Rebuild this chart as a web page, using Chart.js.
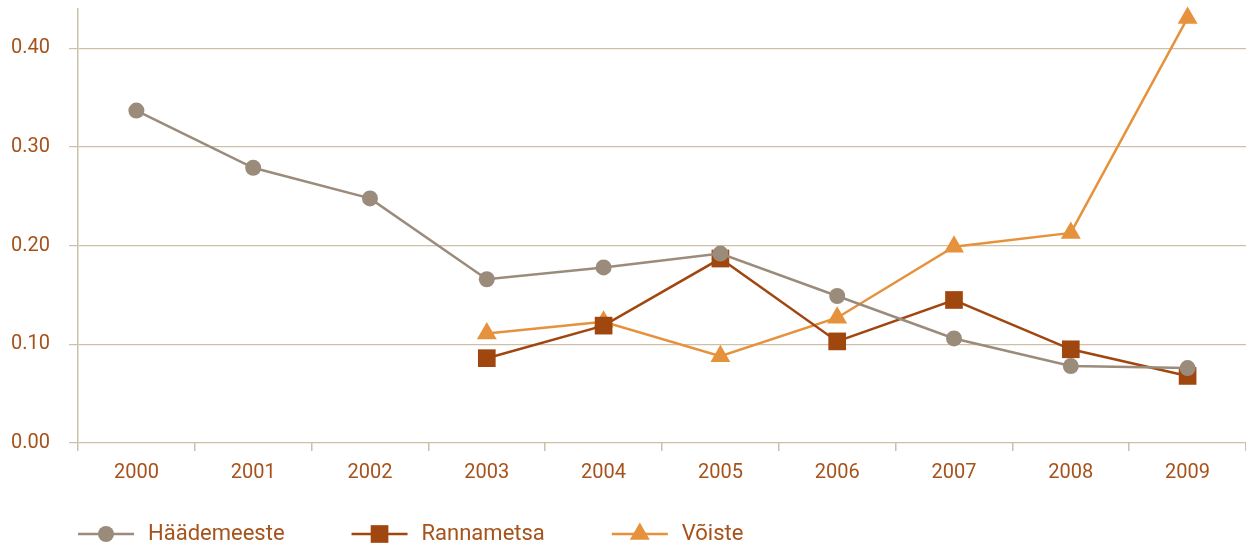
<!DOCTYPE html>
<html>
<head>
<meta charset="utf-8">
<script src="https://cdn.jsdelivr.net/npm/chart.js@4"></script>
<style>
    html, body { margin: 0; padding: 0; background: #ffffff; }
    #wrap { width: 1246px; height: 545px; }
</style>
</head>
<body>
<div id="wrap"><canvas id="line-chart"></canvas></div>
<script>
const years = ["2000", "2001", "2002", "2003", "2004", "2005", "2006", "2007", "2008", "2009"];
const haademeeste = [0.337, 0.279, 0.248, 0.166, 0.178, 0.192, 0.149, 0.106, 0.078, 0.076];
const rannametsa = [null, null, null, 0.086, 0.119, 0.187, 0.103, 0.145, 0.095, 0.068];
const voiste = [null, null, null, 0.111, 0.123, 0.088, 0.127, 0.199, 0.213, 0.431];
const yTicks = [0, 0.1, 0.2, 0.3, 0.4];

const textColor = "#a6521b";
const gridColor = "#cdbfa8";
const font = { family: "Roboto", size: 20 };

/* legend: line with marker, drawn under the x axis */
const lineLegend = {
    id: "lineLegend",
    afterDraw(chart) {
        const ctx = chart.ctx;
        const y = 534;
        let x = chart.chartArea.left;
        ctx.save();
        ctx.font = "22px " + font.family;
        ctx.textBaseline = "middle";
        chart.data.datasets.forEach(function(ds) {
            ctx.strokeStyle = ds.borderColor;
            ctx.lineWidth = ds.borderWidth;
            ctx.beginPath();
            ctx.moveTo(x, y);
            ctx.lineTo(x + 56, y);
            ctx.stroke();
            ctx.fillStyle = ds.pointBackgroundColor;
            Chart.helpers.drawPoint(ctx, {
                pointStyle: ds.pointStyle,
                radius: ds.pointRadius,
                borderWidth: 0,
                rotation: 0
            }, x + 28, y);
            ctx.fillStyle = textColor;
            ctx.fillText(ds.label, x + 70, y);
            x += 70 + ctx.measureText(ds.label).width + 67;
        });
        ctx.restore();
    }
};

new Chart(document.querySelector("#line-chart"), {
    type: "line",
    data: {
        labels: years,
        datasets: [{
            label: "Häädemeeste",
            data: haademeeste,
            borderColor: "#9b8b7b",
            pointBackgroundColor: "#9b8b7b",
            pointBorderColor: "#9b8b7b",
            borderWidth: 2.5,
            pointStyle: "circle",
            pointRadius: 8,
            pointBorderWidth: 0,
        }, {
            label: "Rannametsa",
            data: rannametsa,
            borderColor: "#a0460f",
            pointBackgroundColor: "#a0460f",
            pointBorderColor: "#a0460f",
            borderWidth: 2.5,
            pointStyle: "rect",
            pointRadius: 12.5,
            pointBorderWidth: 0,
        }, {
            label: "Võiste",
            data: voiste,
            borderColor: "#e6913b",
            pointBackgroundColor: "#e6913b",
            pointBorderColor: "#e6913b",
            borderWidth: 2.5,
            pointStyle: "triangle",
            pointRadius: 11.5,
            pointBorderWidth: 0,
        }],
    },
    options: {
        responsive: true,
        maintainAspectRatio: false,
        animation: false,
        layout: { autoPadding: false, padding: { top: 9, right: 0, bottom: 0, left: 0 } },
        clip: false,
        plugins: {
            legend: { display: false },
            tooltip: { enabled: false },
        },
        scales: {
            x: {
                offset: true,
                grid: {
                    offset: true,
                    drawOnChartArea: false,
                    color: gridColor,
                    tickLength: 8,
                    lineWidth: 1.5,
                },
                border: { display: false },
                ticks: { color: textColor, font: font, padding: 10, maxRotation: 0 },
                afterFit(scale) {
                    scale.height = 102;
                    scale.paddingLeft = 0;
                    scale.paddingRight = 0;
                },
            },
            y: {
                min: 0,
                max: 0.44,
                afterBuildTicks(scale) {
                    scale.ticks = yTicks.map(function(v) { return { value: v }; });
                },
                grid: {
                    color: gridColor,
                    tickLength: 9,
                    lineWidth: 1.2,
                },
                border: { color: gridColor, width: 1.5 },
                ticks: {
                    color: textColor,
                    font: font,
                    padding: 19,
                    callback: function(v) { return Number(v).toFixed(2); },
                },
                afterFit(scale) {
                    scale.width = 78;
                    scale.paddingTop = 0;
                    scale.paddingBottom = 0;
                },
            },
        },
    },
    plugins: [lineLegend],
});
</script>
</body>
</html>
